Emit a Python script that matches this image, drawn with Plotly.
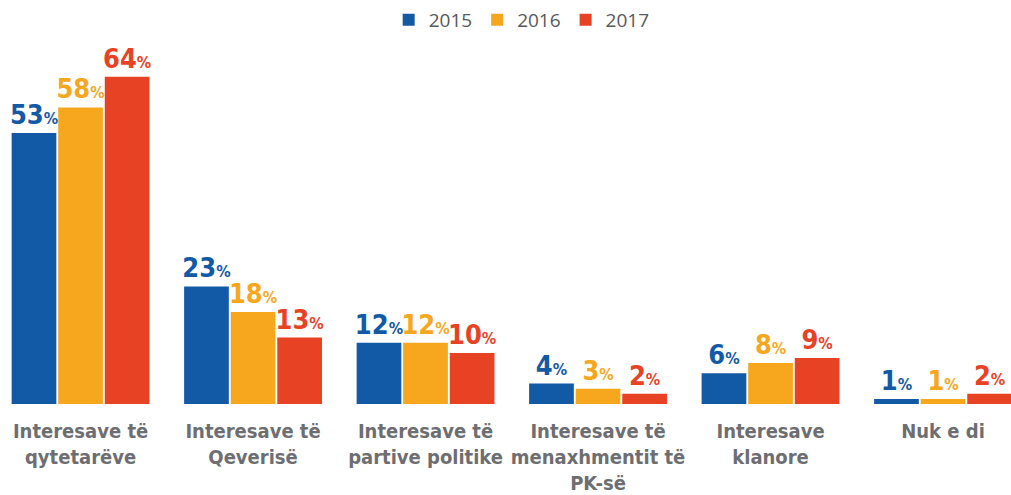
import plotly.graph_objects as go

categories = ["Interesave të<br>qytetarëve", "Interesave të<br>Qeverisë",
              "Interesave të<br>partive politike", "Interesave të<br>menaxhmentit të<br>PK-së",
              "Interesave<br>klanore", "Nuk e di"]
series_names = ["2015", "2016", "2017"]
v2015 = [53, 23, 12, 4, 6, 1]
v2016 = [58, 18, 12, 3, 8, 1]
v2017 = [64, 13, 10, 2, 9, 2]
colors = ["#1259A6", "#F6A71E", "#E84225"]

NARROW = "DejaVu Sans Condensed, DejaVu Sans"

fig = go.Figure()
for name, vals, col in zip(series_names, [v2015, v2016, v2017], colors):
    fig.add_trace(go.Bar(
        x=list(range(len(categories))), y=vals, name=name,
        marker=dict(color=col, line=dict(width=0)),
        text=[f"<b>{v}</b><span style='font-size:16px'><b>%</b></span>" for v in vals],
        textposition="outside", constraintext="none", cliponaxis=False,
        textfont=dict(family=NARROW, size=27, color=col),
        hoverinfo="skip",
    ))

fig.update_layout(
    width=1011, height=495,
    template="none",
    barmode="group", bargap=0.19, bargroupgap=0.04,
    margin=dict(l=0, r=0, t=40, b=91, autoexpand=False),
    paper_bgcolor="white", plot_bgcolor="white",
    showlegend=True,
    legend=dict(orientation="h", x=0.516, xanchor="center", y=0.96, yref="container",
                yanchor="middle", font=dict(family="Open Sans, sans-serif", size=19, color="#58595B"),
                bgcolor="rgba(0,0,0,0)", traceorder="normal"),
    xaxis=dict(range=[-0.467, 5.394], tickmode="array", tickvals=list(range(len(categories))),
               ticktext=categories, showgrid=False, zeroline=False, showline=False, ticks="",
               automargin=False, ticklabelstandoff=13, tickangle=0,
               tickfont=dict(family=NARROW, size=20, color="#6D6E71", weight="bold")),
    yaxis=dict(range=[0, 71.2], visible=False, showgrid=False, zeroline=False, automargin=False),
)

post = """
document.body.style.margin='0';document.body.style.padding='0';
"""
fig.write_html("out.html", post_script=post, config={"displayModeBar": False})
